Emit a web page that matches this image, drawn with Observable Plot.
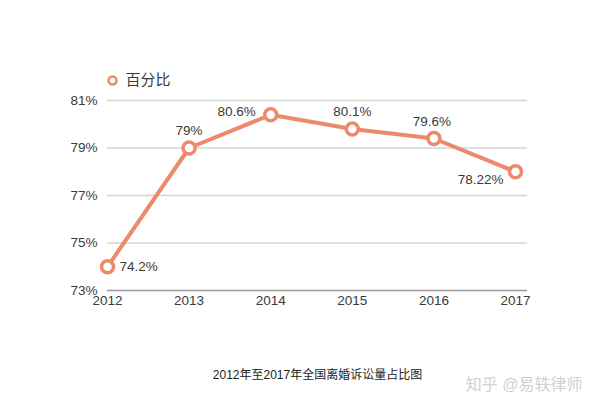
<!DOCTYPE html>
<html><head><meta charset="utf-8">
<script src="https://cdn.jsdelivr.net/npm/d3@7"></script>
<script src="https://cdn.jsdelivr.net/npm/@observablehq/plot@0.6"></script>
<style>body{margin:0;background:#fff}</style>
</head><body><div id="chart"></div>
<script>
const years = [2012, 2013, 2014, 2015, 2016, 2017];
const values = [74.0, 79.0, 80.4, 79.8, 79.4, 78.0];
const labels = ["74.2%", "79%", "80.6%", "80.1%", "79.6%", "78.22%"];
const yTicks = [73, 75, 77, 79, 81];
const seriesName = "百分比";
const title = "2012年至2017年全国离婚诉讼量占比图";
const watermark = "知乎 @易轶律师";

const data = years.map((y, i) => ({year: y, value: values[i], label: labels[i], i}));
// label placement per point: [textAnchor, dx, dy]
const place = [["start", 12, 0], ["middle", 0, -17], ["end", -15, -3], ["middle", 0, -17], ["middle", -2, -17], ["end", -12, 8]];
const lineColor = "#ec8a6b";
const textColor = "#3a3a3a";

const labelMarks = ["start", "middle", "end"].flatMap(anchor =>
  data.filter(d => place[d.i][0] === anchor).map(d =>
    Plot.text([d], {x: "year", y: "value", text: "label", textAnchor: anchor,
      dx: place[d.i][1], dy: place[d.i][2], fontSize: 13.5, fill: textColor})));

const chart = Plot.plot({
  width: 600, height: 416,
  marginLeft: 107, marginRight: 73, marginTop: 100, marginBottom: 126,
  style: {fontFamily: "'Liberation Sans', 'Noto Sans CJK SC', sans-serif", fontSize: "13.5px", color: textColor, background: "#fff"},
  x: {domain: [2012, 2017.147], ticks: years, tickFormat: d => String(d), tickSize: 0, tickPadding: 5, label: null},
  y: {domain: [73, 81], ticks: yTicks, tickFormat: d => d + "%", tickSize: 0, tickPadding: 10, label: null},
  marks: [
    Plot.ruleY(yTicks.filter(d => d > 73), {stroke: "#d4d4d4", strokeWidth: 1.5}),
    Plot.ruleY([73], {stroke: "#999", strokeWidth: 1.5}),
    Plot.line(data, {x: "year", y: "value", stroke: lineColor, strokeWidth: 4}),
    Plot.dot(data, {x: "year", y: "value", r: 6, fill: "#fff", stroke: lineColor, strokeWidth: 3.5}),
    ...labelMarks,
    Plot.dot([0], {frameAnchor: "top-left", dx: 5, dy: -20, r: 4, fill: "#fff", stroke: lineColor, strokeWidth: 2.5}),
    Plot.text([seriesName], {frameAnchor: "top-left", lineAnchor: "middle", dx: 18, dy: -20, textAnchor: "start", fontSize: 15, fill: textColor}),
    Plot.text([title], {frameAnchor: "bottom", lineAnchor: "middle", dy: 85, fontSize: 12, fill: "#222"}),
    Plot.text([watermark], {frameAnchor: "bottom-right", lineAnchor: "middle", dx: 55, dy: 94, textAnchor: "end", fontSize: 16, fill: "#d0d0d0"})
  ]
});
document.getElementById("chart").appendChild(chart);
</script>
</body></html>
